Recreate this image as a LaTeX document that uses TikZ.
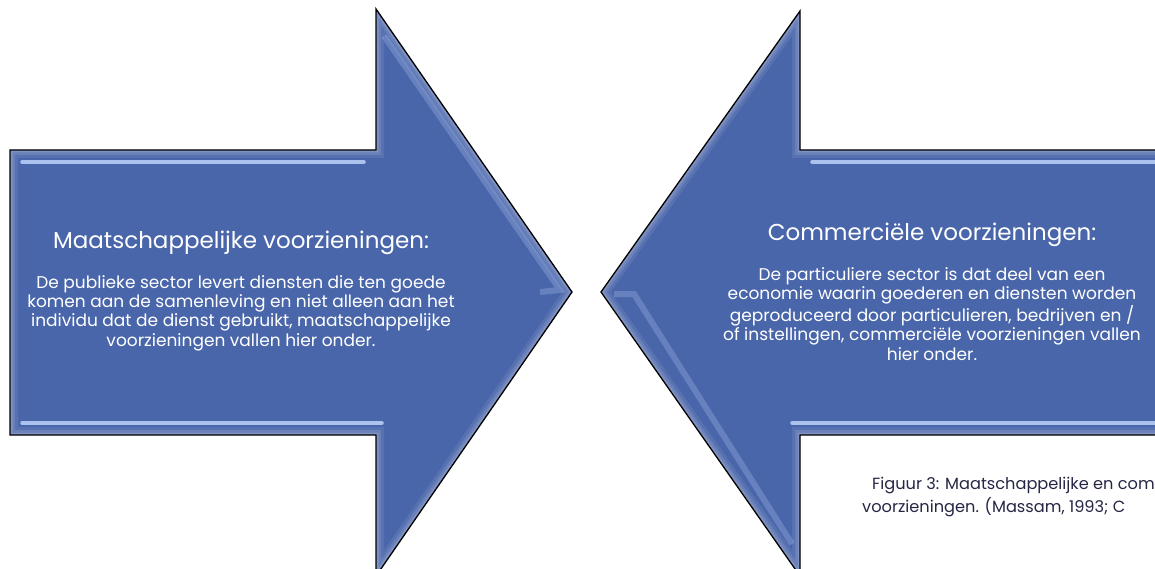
\documentclass[tikz,border=0pt]{standalone}
\usepackage{fontspec}
\setmainfont{Poppins}
\definecolor{arrowblue}{RGB}{74,102,171}
\definecolor{bevelblue}{RGB}{172,194,238}
\definecolor{captionink}{RGB}{36,38,68}
\tikzset{
  arrowshape/.style={draw=black,line width=1.3pt,line join=miter},
  glow/.style={draw=white,line join=miter},
  bevel/.style={draw=bevelblue,line width=3.5pt,line cap=round},
  headtitle/.style={text=white,font=\fontsize{23}{27}\selectfont,align=center},
  bodytext/.style={text=white,font=\fontsize{17}{19.3}\selectfont,align=center},
}
\begin{document}
\begin{tikzpicture}[x=1pt,y=-1pt]
  \useasboundingbox (0,0) rectangle (1155,569);
  % left arrow
  \fill[arrowblue] (10,150) -- (376,150) -- (376,9) -- (572,292) -- (376,576) -- (376,435) -- (10,435) -- cycle;
  \begin{scope}
    \clip (10,150) -- (376,150) -- (376,9) -- (572,292) -- (376,576) -- (376,435) -- (10,435) -- cycle;
    \foreach \w/\o in {16/.08,10/.1,5/.14}
      \draw[glow,line width=\w pt,opacity=\o] (10,150) -- (376,150) -- (376,9) -- (572,292) -- (376,576) -- (376,435) -- (10,435) -- cycle;
    \draw[bevel] (22,162) -- (364,162); % top bevel
    \draw[bevel] (22,423) -- (382,423); % bottom bevel
    \draw[bevelblue,line width=6pt,opacity=.3] (384,36) -- (560,290) -- (540,292); % head edge
  \end{scope}
  \draw[arrowshape] (10,150) -- (376,150) -- (376,9) -- (572,292) -- (376,576) -- (376,435) -- (10,435) -- cycle;
  % right arrow
  \fill[arrowblue] (1190,150) -- (800,150) -- (800,11) -- (601,292) -- (800,576) -- (800,435) -- (1190,435) -- cycle;
  \begin{scope}
    \clip (1190,150) -- (800,150) -- (800,11) -- (601,292) -- (800,576) -- (800,435) -- (1190,435) -- cycle;
    \foreach \w/\o in {16/.08,10/.1,5/.14}
      \draw[glow,line width=\w pt,opacity=\o] (1190,150) -- (800,150) -- (800,11) -- (601,292) -- (800,576) -- (800,435) -- (1190,435) -- cycle;
    \draw[bevel] (812,162) -- (1180,162); % top bevel
    \draw[bevel] (792,423) -- (1180,423); % bottom bevel
    \draw[bevelblue,line width=6pt,opacity=.3] (614,294) -- (634,294) -- (792,544); % head edge
  \end{scope}
  \draw[arrowshape] (1190,150) -- (800,150) -- (800,11) -- (601,292) -- (800,576) -- (800,435) -- (1190,435);
  % texts
  \node[headtitle] (lefttitle) at (241,243) {Maatschappelijke voorzieningen:};
  \node[bodytext] (lefttext) at (241,313) {De publieke sector levert diensten die ten goede\\komen aan de samenleving en niet alleen aan het\\individu dat de dienst gebruikt, maatschappelijke\\voorzieningen vallen hier onder.};
  \node[headtitle] (righttitle) at (932,235) {Commerciële voorzieningen:};
  \node[bodytext] (righttext) at (932,314) {De particuliere sector is dat deel van een\\economie waarin goederen en diensten worden\\geproduceerd door particulieren, bedrijven en /\\of instellingen, commerciële voorzieningen vallen\\hier onder.};
  % caption
  \node[text=captionink,font=\fontsize{16.2}{23}\selectfont,align=left,anchor=north west,inner sep=0pt] (caption) at (862,477) {\hspace*{10pt}Figuur 3: Maatschappelijke en com\\voorzieningen. (Massam, 1993; C};
\end{tikzpicture}
\end{document}
